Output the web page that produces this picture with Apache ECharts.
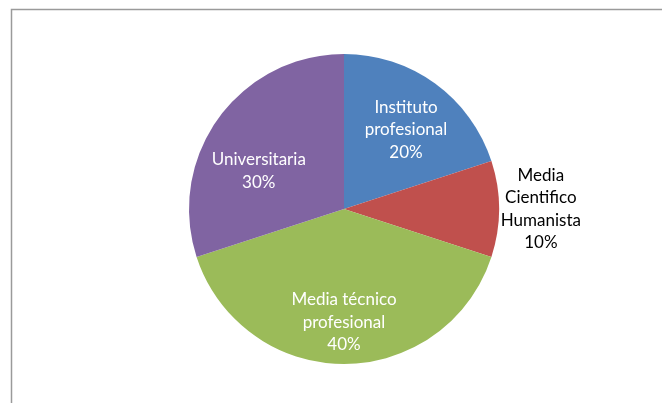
<!DOCTYPE html>
<html><head><meta charset="utf-8">
<script src="https://cdn.jsdelivr.net/npm/echarts@6/dist/echarts.min.js"></script>
<style>html,body{margin:0;padding:0;background:#fff}#c{width:662px;height:403px}</style>
</head><body><div id="c"></div>
<script>
const categories = ['Instituto\nprofesional', 'Media\nCientifico\nHumanista', 'Media técnico\nprofesional', 'Universitaria'];
const values = [20, 10, 40, 30];
const colors = ['#4F81BD', '#C0504D', '#9BBB59', '#8064A2'];
const labelColors = ['#ffffff', '#000000', '#ffffff', '#ffffff'];
// label anchor offsets from pie centre, in units of radius
const labelOffsets = [[0.40, -0.51], [1.27, 0.0], [0.0, 0.73], [-0.55, -0.245]];

const cx = 344, cy = 209, R = 155;
const chart = echarts.init(document.getElementById('c'), null, {renderer: 'canvas'});
chart.setOption({
  animation: false,
  backgroundColor: '#ffffff',
  graphic: [{
    type: 'rect', silent: true,
    shape: {x: 11.5, y: 9.5, width: 720, height: 500},
    style: {fill: 'none', stroke: '#9a9a9a', lineWidth: 1.5}
  }],
  series: [{
    type: 'pie',
    center: [cx, cy],
    radius: R,
    startAngle: 90,
    clockwise: true,
    data: categories.map((n, i) => ({
      name: n, value: values[i],
      itemStyle: {color: colors[i]},
      label: {color: labelColors[i]}
    })),
    itemStyle: {borderWidth: 0},
    label: {
      show: true,
      position: 'inside',
      formatter: '{b}\n{c}%',
      fontFamily: 'Lato',
      fontSize: 17,
      lineHeight: 22.5,
      align: 'center',
      verticalAlign: 'middle'
    },
    labelLine: {show: false},
    labelLayout: function (p) {
      const o = labelOffsets[p.dataIndex];
      return {x: cx + o[0] * R, y: cy + o[1] * R, align: 'center', verticalAlign: 'middle'};
    },
    emphasis: {disabled: true}
  }]
});
</script></body></html>
